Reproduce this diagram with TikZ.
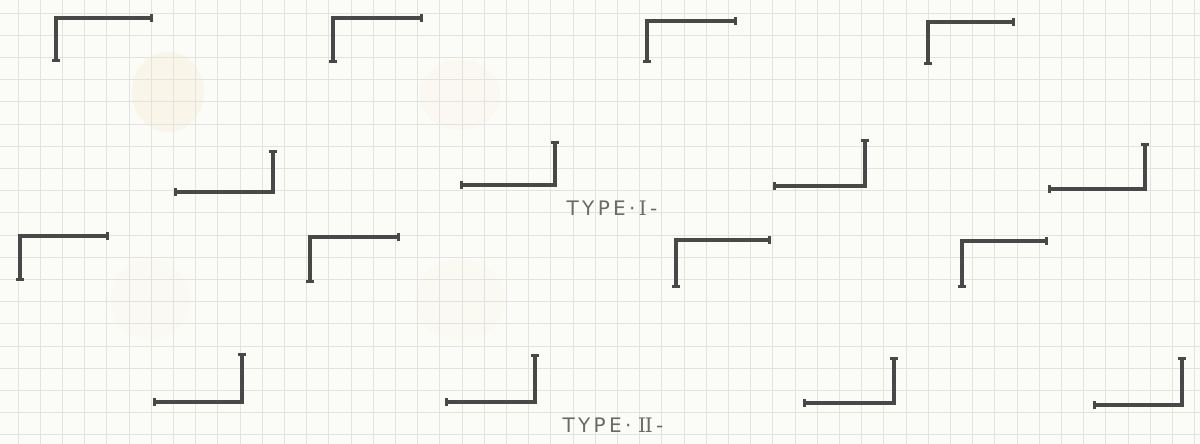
\documentclass[tikz,border=0pt]{standalone}
\usepackage{fontspec}
\setmainfont{DejaVu Sans}
\newfontfamily\numfont{DejaVu Serif}
\usetikzlibrary{arrows.meta}
\definecolor{paper}{HTML}{FBFBF7}
\definecolor{gridc}{HTML}{E2E2DF}
\definecolor{ink}{HTML}{484848}
\definecolor{pencil}{HTML}{6A6A6A}
\definecolor{stain}{HTML}{F6E6B8}
\tikzset{
  bracket/.style={draw=ink, line width=1.6pt, line join=miter, {Bar[width=3.6pt,line width=1.6pt]}-{Bar[width=3.6pt,line width=1.6pt]}},
  label/.style={text=pencil, font=\fontsize{10}{12}\selectfont, inner sep=0pt}
}
\begin{document}
\begin{tikzpicture}[x=0.5pt,y=-0.5pt]
\useasboundingbox (0,0) rectangle (1200,444);
\fill[paper] (0,0) rectangle (1200,444);
% faint stains
\fill[stain, opacity=0.22] (168,92) ellipse (36 and 40);
\fill[stain, opacity=0.10] (460,95) ellipse (40 and 35);
\fill[stain, opacity=0.07] (460,300) ellipse (45 and 40);
\fill[stain, opacity=0.06] (150,300) ellipse (40 and 40);
% grid
\foreach \gx in {18,40.2,...,1200} \draw[gridc, line width=0.45pt] (\gx,0) -- (\gx,444);
\foreach \gy in {13,35.2,...,444} \draw[gridc, line width=0.45pt] (0,\gy) -- (1200,\gy);
% Type I, top row
\draw[bracket] (56,62) -- (56,18) -- (153,18);
\draw[bracket] (333,63) -- (333,18) -- (423,18);
\draw[bracket] (647,63) -- (647,21) -- (737,21);
\draw[bracket] (928,65) -- (928,22) -- (1015,22);
% Type I, bottom row
\draw[bracket] (174,192) -- (273,192) -- (273,150);
\draw[bracket] (460,185) -- (555,185) -- (555,141);
\draw[bracket] (773,186) -- (865,186) -- (865,139);
\draw[bracket] (1048,189) -- (1145,189) -- (1145,143);
% Type II, top row
\draw[bracket] (20,281) -- (20,236) -- (109,236);
\draw[bracket] (310,283) -- (310,237) -- (400,237);
\draw[bracket] (676,288) -- (676,240) -- (771,240);
\draw[bracket] (962,288) -- (962,241) -- (1048,241);
% Type II, bottom row
\draw[bracket] (153,402) -- (242,402) -- (242,353);
\draw[bracket] (445,402) -- (535,402) -- (535,354);
\draw[bracket] (803,403) -- (894,403) -- (894,357);
\draw[bracket] (1093,405) -- (1182,405) -- (1182,357);
% labels
\node[label] (t1) at (612,208) {T\,Y\,P\,E\,·\,{\numfont I}\,-};
\node[label] (t2) at (613,425) {T\,Y\,P\,E\,·\,\,{\numfont I\kern-0.5ptI}\,-};
\end{tikzpicture}
\end{document}
